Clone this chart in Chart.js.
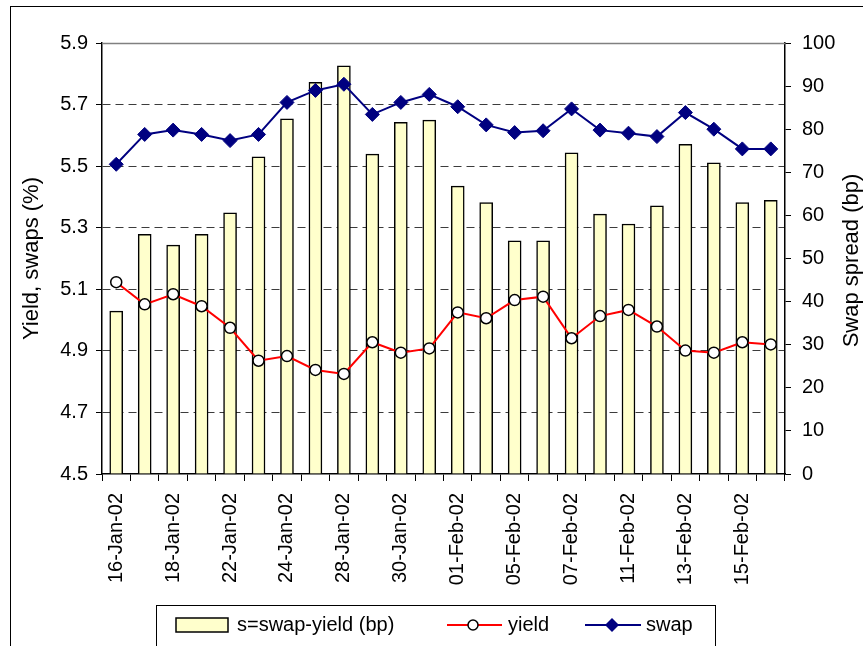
<!DOCTYPE html>
<html>
<head>
<meta charset="utf-8">
<script src="https://cdn.jsdelivr.net/npm/chart.js@4/dist/chart.umd.min.js"></script>
<style>
  body { margin: 0; background: #fff; overflow: hidden; }
  #wrap { position: relative; width: 863px; height: 646px; }
</style>
</head>
<body>
<div id="wrap"><canvas id="swaps" width="863" height="646"></canvas></div>
<script>
// trading days shown on the x axis
const dates = [
  "16-Jan-02", "17-Jan-02", "18-Jan-02", "21-Jan-02", "22-Jan-02", "23-Jan-02",
  "24-Jan-02", "25-Jan-02", "28-Jan-02", "29-Jan-02", "30-Jan-02", "31-Jan-02",
  "01-Feb-02", "04-Feb-02", "05-Feb-02", "06-Feb-02", "07-Feb-02", "08-Feb-02",
  "11-Feb-02", "12-Feb-02", "13-Feb-02", "14-Feb-02", "15-Feb-02", "18-Feb-02",
];

// swap spread in bp (right axis)
const spread = [
  37.8, 55.6, 53.1, 55.6, 60.6, 73.6, 82.4, 90.9, 94.7, 74.2, 81.6, 82.1,
  66.8, 63.0, 54.1, 54.1, 74.5, 60.3, 58.0, 62.2, 76.5, 72.2, 63.0, 63.5,
];

// yield and swap rate in % (left axis)
const yieldPct = [
  5.123, 5.051, 5.084, 5.045, 4.975, 4.868, 4.883, 4.838, 4.825, 4.928, 4.894, 4.908,
  5.025, 5.006, 5.065, 5.076, 4.941, 5.013, 5.033, 4.979, 4.901, 4.894, 4.928, 4.921,
];
const swapPct = [
  5.506, 5.603, 5.617, 5.603, 5.583, 5.603, 5.707, 5.746, 5.766, 5.668, 5.707, 5.733,
  5.693, 5.634, 5.609, 5.615, 5.686, 5.617, 5.607, 5.596, 5.674, 5.620, 5.556, 5.556,
];

const leftTicks = { min: 4.5, max: 5.9, step: 0.2 };
const rightTicks = { min: 0, max: 100, step: 10 };
const rightTitle = "Swap spread (bp)";

const FONT = "'Liberation Sans', Arial, sans-serif";

// frame round the whole picture, solid top line of the plot, right axis title
const framePlugin = {
  id: "frame",
  beforeDraw(chart) {
    const ctx = chart.ctx;
    ctx.save();
    ctx.strokeStyle = "#000";
    ctx.lineWidth = 1;
    ctx.strokeRect(10.5, 6.5, 900, 700);
    ctx.restore();
  },
  afterDatasetsDraw(chart) {
    const { ctx, chartArea } = chart;
    ctx.save();
    ctx.strokeStyle = "#808080";
    ctx.lineWidth = 1.5;
    ctx.beginPath();
    ctx.moveTo(chartArea.left, chartArea.top + 0.5);
    ctx.lineTo(chartArea.right, chartArea.top + 0.5);
    ctx.stroke();

    // Chart.js turns a right-hand title the other way, so draw it here
    const yR = chart.scales.yR;
    ctx.translate(852, (yR.top + yR.bottom) / 2 + 2);
    ctx.rotate(-Math.PI / 2);
    ctx.font = "22px " + FONT;
    ctx.fillStyle = "#000";
    ctx.textAlign = "center";
    ctx.textBaseline = "middle";
    ctx.fillText(rightTitle, 0, 0);
    ctx.restore();
  },
};

// Excel-like legend box at the bottom
const legendPlugin = {
  id: "boxLegend",
  afterDraw(chart) {
    const ctx = chart.ctx;
    const ds = chart.data.datasets;
    const cy = 625;
    ctx.save();
    ctx.strokeStyle = "#000";
    ctx.lineWidth = 1;
    ctx.strokeRect(156.5, 605.5, 559, 60);

    ctx.font = "20px " + FONT;
    ctx.fillStyle = "#000";
    ctx.textBaseline = "middle";

    // bars
    ctx.fillStyle = ds[0].backgroundColor;
    ctx.fillRect(176, 618, 52, 14);
    ctx.lineWidth = 1.5;
    ctx.strokeStyle = "#000";
    ctx.strokeRect(176, 618, 52, 14);
    ctx.fillStyle = "#000";
    ctx.fillText(ds[0].label, 237, cy);

    // yield
    ctx.strokeStyle = ds[1].borderColor;
    ctx.lineWidth = 2;
    ctx.beginPath();
    ctx.moveTo(447, cy);
    ctx.lineTo(502, cy);
    ctx.stroke();
    ctx.beginPath();
    ctx.arc(473, cy, 5, 0, Math.PI * 2);
    ctx.fillStyle = "#fff";
    ctx.fill();
    ctx.strokeStyle = "#000";
    ctx.lineWidth = 1.5;
    ctx.stroke();
    ctx.fillStyle = "#000";
    ctx.fillText(ds[1].label, 508, cy);

    // swap
    ctx.strokeStyle = ds[2].borderColor;
    ctx.lineWidth = 2;
    ctx.beginPath();
    ctx.moveTo(585, cy);
    ctx.lineTo(641, cy);
    ctx.stroke();
    ctx.fillStyle = ds[2].pointBackgroundColor;
    ctx.beginPath();
    ctx.moveTo(612, cy - 7);
    ctx.lineTo(619, cy);
    ctx.lineTo(612, cy + 7);
    ctx.lineTo(605, cy);
    ctx.closePath();
    ctx.fill();
    ctx.fillStyle = "#000";
    ctx.fillText(ds[2].label, 646, cy);
    ctx.restore();
  },
};

Chart.defaults.font.family = FONT;
Chart.defaults.color = "#000";

new Chart(document.getElementById("swaps").getContext("2d"), {
  data: {
    labels: dates,
    datasets: [
      {
        type: "bar",
        label: "s=swap-yield (bp)",
        data: spread,
        yAxisID: "yR",
        backgroundColor: "#FFFFCC",
        borderColor: "#000",
        borderWidth: 1.5,
        barThickness: 13,
        order: 3,
      },
      {
        type: "line",
        label: "yield",
        data: yieldPct,
        yAxisID: "yL",
        borderColor: "#FF0000",
        borderWidth: 2,
        tension: 0,
        pointRadius: 5.5,
        pointBackgroundColor: "#fff",
        pointBorderColor: "#000",
        pointBorderWidth: 1.5,
        order: 2,
      },
      {
        type: "line",
        label: "swap",
        data: swapPct,
        yAxisID: "yL",
        borderColor: "#000080",
        borderWidth: 2,
        tension: 0,
        pointStyle: "rectRot",
        pointRadius: 7,
        pointBackgroundColor: "#000080",
        pointBorderColor: "#000080",
        pointBorderWidth: 1,
        order: 1,
      },
    ],
  },
  options: {
    responsive: false,
    animation: false,
    layout: { padding: { top: 43, left: 0, right: 0, bottom: 0 } },
    plugins: {
      legend: { display: false },
      tooltip: { enabled: false },
    },
    scales: {
      x: {
        offset: true,
        grid: {
          offset: true,
          drawOnChartArea: false,
          tickLength: 7,
          tickColor: "#000",
        },
        border: { color: "#000", width: 1.5 },
        ticks: {
          autoSkip: false,
          minRotation: 90,
          maxRotation: 90,
          padding: 12,
          font: { size: 20 },
          callback: function (value, index) {
            return index % 2 === 0 ? this.getLabelForValue(value) : "";
          },
        },
        afterFit: (s) => { s.height = 172; },
      },
      yL: {
        position: "left",
        min: leftTicks.min,
        max: leftTicks.max,
        ticks: {
          stepSize: leftTicks.step,
          padding: 8,
          font: { size: 20 },
          callback: (v) => v.toFixed(1),
        },
        grid: {
          color: (c) =>
            c.tick && (c.tick.value <= leftTicks.min + 1e-6 || c.tick.value >= leftTicks.max - 1e-6)
              ? "rgba(0,0,0,0)"
              : "#3c3c3c",
          lineWidth: 1,
          tickColor: "#000",
          tickLength: 6,
        },
        border: { color: "#000", width: 1.5, dash: [8, 5] },
        title: {
          display: true,
          text: "Yield, swaps (%)",
          font: { size: 22, lineHeight: 1 },
          padding: { top: 21, bottom: 0 },
        },
        afterFit: (s) => { s.width = 102; },
      },
      yR: {
        position: "right",
        min: rightTicks.min,
        max: rightTicks.max,
        ticks: {
          stepSize: rightTicks.step,
          padding: 11,
          font: { size: 20 },
        },
        grid: {
          drawOnChartArea: false,
          tickColor: "#000",
          tickLength: 6,
        },
        border: { color: "#000", width: 1.5 },
        afterFit: (s) => { s.width = 78; },
      },
    },
  },
  plugins: [framePlugin, legendPlugin],
});
</script>
</body>
</html>
